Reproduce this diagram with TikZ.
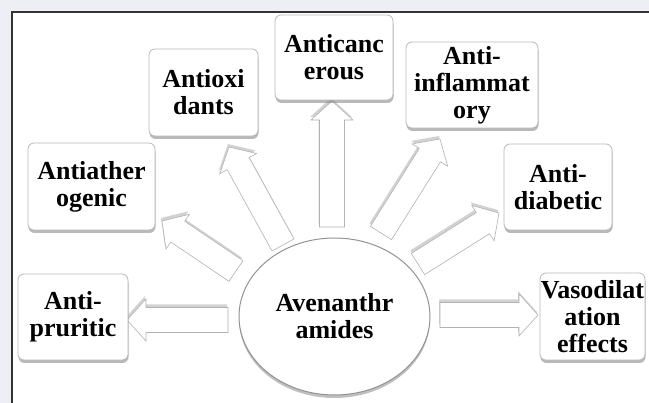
\documentclass[tikz,border=0pt]{standalone}
\usepackage{fontspec}
\setmainfont{Liberation Serif}
\usetikzlibrary{calc,shadows,shapes.geometric}
\definecolor{bgl}{HTML}{EEEEF5}
\definecolor{frame}{HTML}{333333}
\pgfdeclarelayer{back}
\pgfdeclarelayer{arr}
\pgfsetlayers{back,arr,main}
\newcommand\blkarrow[2]{%
  \coordinate (hh) at ($(#2)!19pt!(#1)$);
  \draw[blockarr] ($(#1)!12.5pt!90:(#2)$) -- ($(hh)!12.5pt!-90:(#1)$) -- ($(hh)!21pt!-90:(#1)$) -- (#2)
    -- ($(hh)!21pt!90:(#1)$) -- ($(hh)!12.5pt!90:(#1)$) -- ($(#1)!12.5pt!-90:(#2)$) -- cycle;}
\begin{document}
\begin{tikzpicture}[x=1pt,y=-1pt,
  txt/.style={font=\fontsize{26}{27}\selectfont\bfseries},
  box/.style={txt, draw=gray!55, line width=0.8pt, fill=white, rounded corners=6pt, align=center,
    inner sep=0pt, drop shadow={opacity=0.55, shadow xshift=0.5pt, shadow yshift=-3pt}},
  hub/.style={txt, ellipse, draw=gray!85, line width=1pt, fill=white, align=center, inner sep=0pt,
    minimum width=191pt, minimum height=157pt, drop shadow={opacity=0.5, shadow xshift=0pt, shadow yshift=-3pt}},
  blockarr/.style={fill=white, draw=gray!60, line width=0.6pt, line join=miter,
    drop shadow={opacity=0.35, shadow xshift=-1pt, shadow yshift=3pt}}]
\useasboundingbox (0,0) rectangle (649,403);
\clip (0,0) rectangle (649,403);
\begin{pgfonlayer}{back}
  \fill[bgl] (0,0) rectangle (649,403);
  \draw[frame, line width=1.2pt, fill=white] (12,12) rectangle (660,420);
\end{pgfonlayer}

\node[hub] (c) at (334.5,316.5) {Avenanthr\\amides};

\node[box, minimum width=110pt, minimum height=86pt] (pru) at (73,317) {Anti-\\pruritic};
\node[box, minimum width=127pt, minimum height=87pt] (ath) at (91.5,186.5) {Antiather\\ogenic};
\node[box, minimum width=109pt, minimum height=87pt] (oxi) at (203.5,92.5) {Antioxi\\dants};
\node[box, minimum width=118pt, minimum height=85pt] (canc) at (334,57.5) {Anticanc\\erous};
\node[box, minimum width=132pt, minimum height=86pt] (infl) at (472,85) {Anti-\\inflammat\\ory};
\node[box, minimum width=108pt, minimum height=86pt] (diab) at (558,187) {Anti-\\diabetic};
\node[box, minimum width=105pt, minimum height=87pt] (vaso) at (592.5,316.5) {Vasodilat\\ation\\effects};

\coordinate (s1) at (228,320); \coordinate (t1) at (127,320);
\coordinate (s2) at (440,315); \coordinate (t2) at (538,315);
\coordinate (s3) at (332,227); \coordinate (t3) at (332,101);
\coordinate (s4) at (283,245); \coordinate (t4) at (229,147);
\coordinate (s5) at (236,271); \coordinate (t5) at (162,221);
\coordinate (s6) at (381,233); \coordinate (t6) at (440,139);
\coordinate (s7) at (418,264); \coordinate (t7) at (499,213);

\begin{pgfonlayer}{arr}
  \blkarrow{s1}{t1}
  \blkarrow{s2}{t2}
  \blkarrow{s3}{t3}
  \blkarrow{s4}{t4}
  \blkarrow{s5}{t5}
  \blkarrow{s6}{t6}
  \blkarrow{s7}{t7}
\end{pgfonlayer}
\end{tikzpicture}
\end{document}
